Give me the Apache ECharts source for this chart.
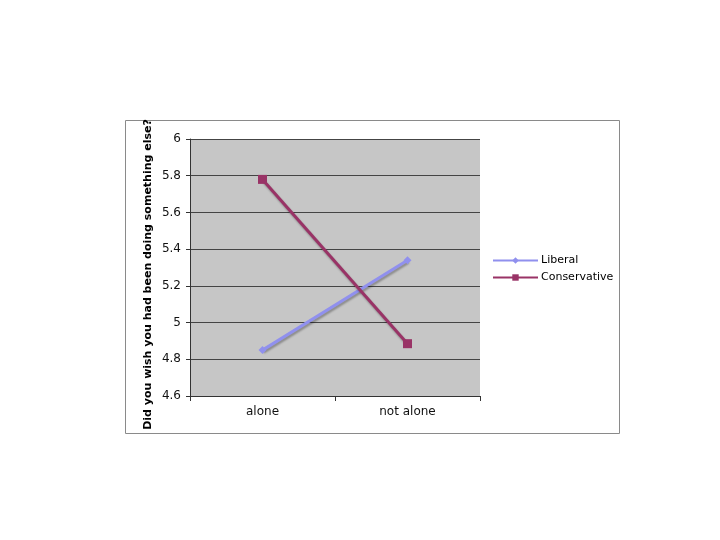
<!DOCTYPE html>
<html><head><meta charset="utf-8">
<script src="https://cdn.jsdelivr.net/npm/echarts@6/dist/echarts.min.js"></script>
<style>html,body{margin:0;padding:0;background:#fff}#c{width:720px;height:540px}</style>
</head><body><div id="c"></div>
<script>
const categories = ["alone", "not alone"];
const liberal = [4.85, 5.34];
const conservative = [5.78, 4.885];
const yTitle = "Did you wish you had been doing something else?";

const chart = echarts.init(document.getElementById('c'), null, {renderer: 'canvas'});
chart.setOption({
  animation: false,
  graphic: [{
    type: 'rect', shape: {x: 125.5, y: 120.5, width: 494, height: 313},
    style: {fill: 'none', stroke: '#8a8a8a', lineWidth: 1}, z: -10
  }],
  grid: {left: 190, top: 139, width: 290, height: 257, show: true, backgroundColor: '#c6c6c6', borderWidth: 0},
  xAxis: {
    type: 'category', data: categories, boundaryGap: true,
    axisLine: {lineStyle: {color: '#333', width: 1}},
    axisTick: {show: true, length: 5, lineStyle: {color: '#333'}},
    axisLabel: {color: '#111', fontFamily: 'DejaVu Sans', fontSize: 12, margin: 10}
  },
  yAxis: {
    type: 'value', min: 4.6, max: 6, interval: 0.2,
    name: yTitle, nameLocation: 'middle', nameGap: 36,
    nameTextStyle: {fontFamily: 'DejaVu Sans', fontWeight: 'bold', fontSize: 11, color: '#000', padding: [0, 14, 0, 0]},
    axisLine: {show: true, lineStyle: {color: '#333'}},
    axisTick: {show: true, length: 4, lineStyle: {color: '#333'}},
    splitLine: {lineStyle: {color: '#444', width: 1}},
    axisLabel: {color: '#111', fontFamily: 'DejaVu Sans', fontSize: 12, margin: 9,
      formatter: v => String(Math.round(v * 10) / 10)}
  },
  legend: {
    orient: 'vertical', left: 492, top: 255, padding: 0, itemWidth: 45, itemHeight: 8, itemGap: 6,
    textStyle: {fontFamily: 'DejaVu Sans', fontSize: 11, color: '#000', padding: [0, 0, 0, -2]},
    data: ['Liberal', 'Conservative']
  },
  series: [
    {name: 'Liberal', type: 'line', data: liberal, symbol: 'diamond', symbolSize: 8,
      itemStyle: {color: '#9090ee'},
      lineStyle: {width: 3, color: '#9090ee', shadowColor: 'rgba(0,0,0,0.3)', shadowBlur: 2, shadowOffsetX: 1, shadowOffsetY: 2}},
    {name: 'Conservative', type: 'line', data: conservative, symbol: 'rect', symbolSize: 9,
      itemStyle: {color: '#993366'},
      lineStyle: {width: 3, color: '#993366', shadowColor: 'rgba(0,0,0,0.3)', shadowBlur: 2, shadowOffsetX: 1, shadowOffsetY: 2}}
  ]
});
</script></body></html>
